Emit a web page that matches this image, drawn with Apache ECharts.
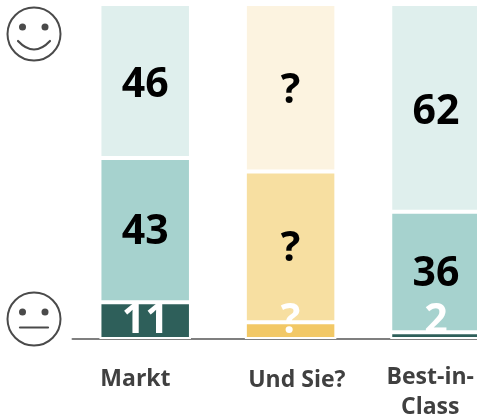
<!DOCTYPE html>
<html>
<head>
<meta charset="utf-8">
<style>html,body{margin:0;padding:0;background:#fff}#c{width:477px;height:416px}</style>
<script src="https://cdn.jsdelivr.net/npm/echarts@6/dist/echarts.min.js"></script>
</head>
<body>
<div id="c"></div>
<script>
const categories = ['Markt', 'Und Sie?', 'Best-in-\nClass'];
const lowValues = [11, 5, 2];
const midValues = [43, 45, 36];
const highValues = [46, 50, 62];
const lowLabels = ['11', '?', '2'];
const midLabels = ['43', '?', '36'];
const highLabels = ['46', '?', '62'];
const lowColors = ['#2E5F5A', '#F2C866', '#2E5F5A'];
const midColors = ['#A6D2CE', '#F7DFA1', '#A6D2CE'];
const highColors = ['#DFEFED', '#FCF3E0', '#DFEFED'];
const labelStyleKeys = ['m', 'u', 'b'];

const FONT = '"Open Sans", Lato, sans-serif';
const chart = echarts.init(document.getElementById('c'), null, {renderer: 'canvas'});

function seriesOf(name, values, labels, colors, labelOpt) {
  return {
    name, type: 'bar', stack: 's', barWidth: 91.5,
    data: values.map((v, i) => ({value: v, itemStyle: {color: colors[i]}})),
    itemStyle: {borderColor: '#fff', borderWidth: 2},
    label: Object.assign({
      show: true, fontFamily: FONT, fontWeight: 'bold', fontSize: 41,
      formatter: p => labels[p.dataIndex]
    }, labelOpt)
  };
}
const INK = '#4A4A4A';
function face(cy, mouth) {
  return {
    type: 'group', silent: true,
    children: [
      {type: 'circle', shape: {cx: 34, cy, r: 26.5}, style: {fill: '#fff', stroke: INK, lineWidth: 2}},
      {type: 'circle', shape: {cx: 22.5, cy: cy - 7, r: 3.5}, style: {fill: INK}},
      {type: 'circle', shape: {cx: 45, cy: cy - 7, r: 3.5}, style: {fill: INK}},
      mouth
    ]
  };
}
const axisText = {fontFamily: FONT, fontWeight: 'bold', fontSize: 23, color: '#404040', lineHeight: 30};
chart.setOption({
  animation: false,
  backgroundColor: '#fff',
  grid: {left: 72.5, right: -31.7, top: 4, bottom: 77, outerBoundsMode: 'none'},
  xAxis: {
    type: 'category', data: categories,
    axisTick: {show: false},
    axisLine: {lineStyle: {color: '#7F7F7F', width: 2}},
    axisLabel: {
      interval: 0, margin: 23, verticalAlign: 'top', lineHeight: 30,
      formatter: (v, i) => v.split('\n').map(s => '{' + labelStyleKeys[i] + '|' + s + '}').join('\n'),
      rich: {
        m: Object.assign({padding: [4, 19.5, 0, 0]}, axisText),
        u: Object.assign({padding: [6, 0, 0, 12.5]}, axisText),
        b: Object.assign({padding: [0, 11.5, 0, 0]}, axisText)
      }
    }
  },
  yAxis: {type: 'value', min: 0, max: 100, show: false},
  series: [
    seriesOf('low', lowValues, lowLabels, lowColors, {position: 'insideBottom', distance: -3, color: '#fff'}),
    seriesOf('mid', midValues, midLabels, midColors, {position: 'inside', offset: [0, 2], color: '#000'}),
    seriesOf('high', highValues, highLabels, highColors, {position: 'inside', offset: [0, 4], color: '#000'})
  ],
  graphic: [
    face(34, {type: 'bezierCurve', shape: {x1: 18, y1: 41, cpx1: 34, cpy1: 58, x2: 50, y2: 41}, style: {fill: 'none', stroke: INK, lineWidth: 2.2, lineCap: 'round'}}),
    face(319, {type: 'line', shape: {x1: 20, y1: 327.5, x2: 48, y2: 327.5}, style: {stroke: INK, lineWidth: 2.2, lineCap: 'round'}})
  ]
});
</script>
</body>
</html>
